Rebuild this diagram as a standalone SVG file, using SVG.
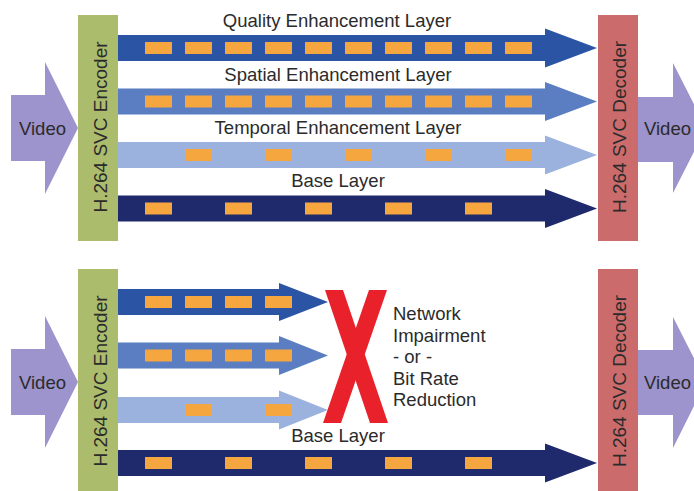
<svg xmlns="http://www.w3.org/2000/svg" xmlns:xlink="http://www.w3.org/1999/xlink" width="694" height="491" viewBox="0 0 694 491">
  <style>
    text { font-family: "Liberation Sans", Arial, Helvetica, sans-serif; fill: #2b2b2b; }
    .lbl { font-size: 18.5px; }
    .box { font-size: 19px; }
    .enc { fill: #abbc6d; }
    .dec { fill: #cc6b6b; }
    .vid { fill: #9d93cd; }
    .q { fill: #2c54a5; }
    .s { fill: #5a7ec1; }
    .t { fill: #9bb2de; }
    .b { fill: #1e2a6c; }
    .cut { fill: #e8212b; }
  </style>
  <defs>
    <!-- one data packet on a layer stream -->
    <rect id="pkt" width="27" height="12" fill="#f6a63f"/>
  </defs>

  <rect width="694" height="491" fill="#ffffff"/>

  <!-- ===== Upper panel: all layers delivered ===== -->
  <g id="video-in-top">
    <polygon class="vid" points="11,95 45,95 45,62 78,128 45,194 45,161 11,161"/>
    <text class="lbl" x="19" y="135">Video</text>
  </g>
  <g id="encoder-top">
    <rect class="enc" x="78" y="15" width="40" height="226"/>
    <text class="box" transform="translate(106.5,127) rotate(-90)" text-anchor="middle">H.264 SVC Encoder</text>
  </g>
  <g id="decoder-top">
    <rect class="dec" x="598" y="15" width="40" height="226"/>
    <text class="box" transform="translate(626,127) rotate(-90)" text-anchor="middle">H.264 SVC Decoder</text>
  </g>
  <g id="video-out-top">
    <polygon class="vid" points="638,97 673,97 673,63 706,128 673,193 673,162 638,162"/>
    <text class="lbl" x="644" y="135">Video</text>
  </g>

  <!-- ===== Lower panel: enhancement layers dropped ===== -->
  <g id="video-in-bottom">
    <polygon class="vid" points="11,349 45,349 45,316 78,382 45,448 45,415 11,415"/>
    <text class="lbl" x="19" y="389">Video</text>
  </g>
  <g id="encoder-bottom">
    <rect class="enc" x="78" y="269" width="40" height="230"/>
    <text class="box" transform="translate(106.5,381) rotate(-90)" text-anchor="middle">H.264 SVC Encoder</text>
  </g>
  <g id="decoder-bottom">
    <rect class="dec" x="598" y="269" width="40" height="230"/>
    <text class="box" transform="translate(626,381) rotate(-90)" text-anchor="middle">H.264 SVC Decoder</text>
  </g>
  <g id="video-out-bottom">
    <polygon class="vid" points="638,350 673,350 673,317 706,382 673,448 673,415 638,415"/>
    <text class="lbl" x="644" y="389">Video</text>
  </g>
  <g id="impairment">
    <polygon class="cut" points="325,290 343,290 388,423 370,423"/>
    <polygon class="cut" points="369,290 387,290 341,423 323,423"/>
    <text class="lbl" x="393" y="320">Network</text>
    <text class="lbl" x="393" y="341.5">Impairment</text>
    <text class="lbl" x="393" y="363">- or -</text>
    <text class="lbl" x="393" y="384.5">Bit Rate</text>
    <text class="lbl" x="393" y="406">Reduction</text>
  </g>

  <g id="connectors">
    <!-- upper panel layer streams -->
    <g id="quality-top">
      <polygon class="q" points="118,35 545,35 545,28.5 597,48 545,67.5 545,61 118,61"/>
      <use href="#pkt" x="145" y="42"/><use href="#pkt" x="185" y="42"/><use href="#pkt" x="225" y="42"/>
      <use href="#pkt" x="265" y="42"/><use href="#pkt" x="305" y="42"/><use href="#pkt" x="345" y="42"/>
      <use href="#pkt" x="385" y="42"/><use href="#pkt" x="425" y="42"/><use href="#pkt" x="465" y="42"/>
      <use href="#pkt" x="505" y="42"/>
      <text class="lbl" x="337" y="27" text-anchor="middle">Quality Enhancement Layer</text>
    </g>
    <g id="spatial-top">
      <polygon class="s" points="118,88.5 545,88.5 545,82 597,101.5 545,121 545,114.5 118,114.5"/>
      <use href="#pkt" x="145" y="95.5"/><use href="#pkt" x="185" y="95.5"/><use href="#pkt" x="225" y="95.5"/>
      <use href="#pkt" x="265" y="95.5"/><use href="#pkt" x="305" y="95.5"/><use href="#pkt" x="345" y="95.5"/>
      <use href="#pkt" x="385" y="95.5"/><use href="#pkt" x="425" y="95.5"/><use href="#pkt" x="465" y="95.5"/>
      <use href="#pkt" x="505" y="95.5"/>
      <text class="lbl" x="338" y="81" text-anchor="middle">Spatial Enhancement Layer</text>
    </g>
    <g id="temporal-top">
      <polygon class="t" points="118,142 545,142 545,135.5 597,155 545,174.5 545,168 118,168"/>
      <use href="#pkt" x="185" y="149"/><use href="#pkt" x="265" y="149"/><use href="#pkt" x="345" y="149"/>
      <use href="#pkt" x="425" y="149"/><use href="#pkt" x="505" y="149"/>
      <text class="lbl" x="338" y="134" text-anchor="middle">Temporal Enhancement Layer</text>
    </g>
    <g id="base-top">
      <polygon class="b" points="118,195.5 545,195.5 545,189 597,208.5 545,228 545,221.5 118,221.5"/>
      <use href="#pkt" x="145" y="202.5"/><use href="#pkt" x="225" y="202.5"/><use href="#pkt" x="305" y="202.5"/>
      <use href="#pkt" x="385" y="202.5"/><use href="#pkt" x="465" y="202.5"/>
      <text class="lbl" x="338" y="187" text-anchor="middle">Base Layer</text>
    </g>

    <!-- lower panel layer streams -->
    <g id="quality-bottom">
      <polygon class="q" points="118,289 279,289 279,283 328,302 279,321 279,315 118,315"/>
      <use href="#pkt" x="145" y="296"/><use href="#pkt" x="185" y="296"/><use href="#pkt" x="225" y="296"/>
      <use href="#pkt" x="265" y="296"/>
    </g>
    <g id="spatial-bottom">
      <polygon class="s" points="118,342.5 279,342.5 279,336 328,355.5 279,375 279,368.5 118,368.5"/>
      <use href="#pkt" x="145" y="349.5"/><use href="#pkt" x="185" y="349.5"/><use href="#pkt" x="225" y="349.5"/>
      <use href="#pkt" x="265" y="349.5"/>
    </g>
    <g id="temporal-bottom">
      <polygon class="t" points="118,397 279,397 279,390.5 328,410 279,429.5 279,423 118,423"/>
      <use href="#pkt" x="185" y="404"/><use href="#pkt" x="265" y="404"/>
    </g>
    <g id="base-bottom">
      <polygon class="b" points="118,450 545,450 545,443.5 597,463 545,482.5 545,476 118,476"/>
      <use href="#pkt" x="145" y="457"/><use href="#pkt" x="225" y="457"/><use href="#pkt" x="305" y="457"/>
      <use href="#pkt" x="385" y="457"/><use href="#pkt" x="465" y="457"/>
      <text class="lbl" x="338" y="442" text-anchor="middle">Base Layer</text>
    </g>
  </g>
</svg>
